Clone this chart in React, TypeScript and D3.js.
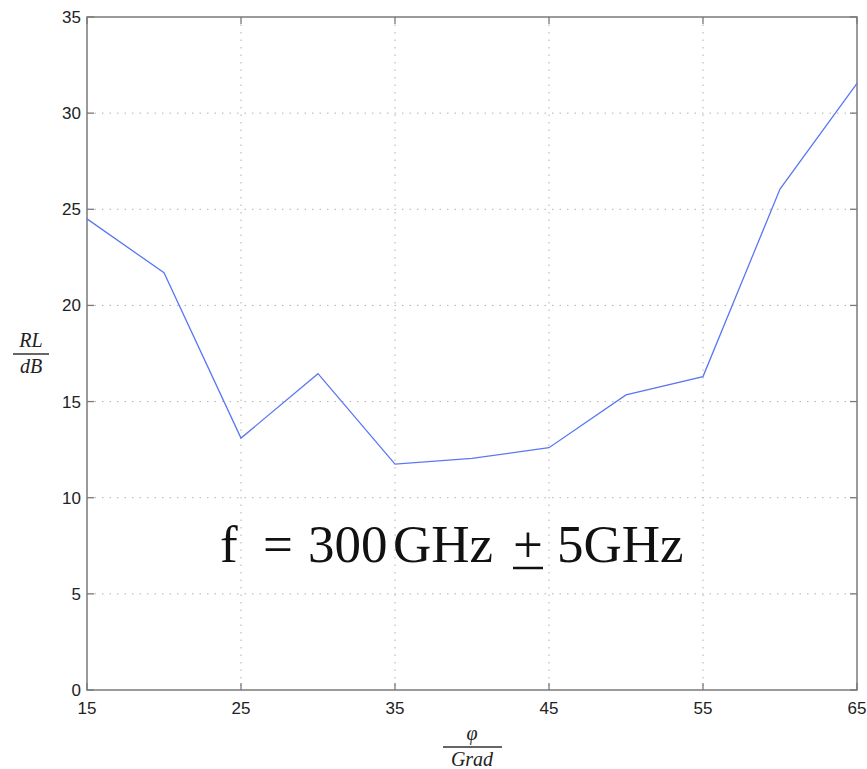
import React from "react";
import * as d3 from "d3";

const angles = [15, 20, 25, 30, 35, 40, 45, 50, 55, 60, 65];
const returnLoss = [24.5, 21.7, 13.1, 16.45, 11.75, 12.05, 12.6, 15.35, 16.3, 26.05, 31.55];
const xTicks = [15, 25, 35, 45, 55, 65];
const yTicks = [0, 5, 10, 15, 20, 25, 30, 35];

const W = 867, H = 769;
const L = 87, R = 857, T = 17, B = 690;

export default function App() {
  const x = d3.scaleLinear().domain([15, 65]).range([L, R]);
  const y = d3.scaleLinear().domain([0, 35]).range([B, T]);
  const line = d3.line<number>().x((_, i) => x(angles[i])).y((d) => y(d));
  const axisColor = "#7a7a7a";
  const tickLen = 7;
  const serif = "'Liberation Serif', 'DejaVu Serif', serif";
  const sans = "'Liberation Sans', Arial, sans-serif";
  const annY = 562;
  const ann = [
    { t: "f", x: 220 },
    { t: "=", x: 263 },
    { t: "300", x: 308 },
    { t: "GHz", x: 393 },
    { t: "+", x: 513 },
    { t: "5GHz", x: 557 },
  ];
  return (
    <svg width={W} height={H} style={{ position: "absolute", left: 0, top: 0, background: "#fff" }}>
      {/* grid */}
      {yTicks.filter((v) => v > 0 && v < 35).map((v) => (
        <line key={"gy" + v} x1={L} x2={R} y1={y(v)} y2={y(v)} stroke="#b0b0b0" strokeWidth={1} strokeDasharray="1.5,6" />
      ))}
      {xTicks.filter((v) => v > 15 && v < 65).map((v) => (
        <line key={"gx" + v} x1={x(v)} x2={x(v)} y1={T} y2={B} stroke="#b0b0b0" strokeWidth={1} strokeDasharray="1.5,6" />
      ))}
      {/* ticks */}
      {yTicks.map((v) => (
        <g key={"ty" + v}>
          <line x1={L} x2={L + tickLen} y1={y(v)} y2={y(v)} stroke={axisColor} strokeWidth={1.3} />
          <line x1={R} x2={R - tickLen} y1={y(v)} y2={y(v)} stroke={axisColor} strokeWidth={1.3} />
          <text x={L - 6} y={y(v)} dy="0.35em" textAnchor="end" fontFamily={sans} fontSize={17} fill="#222">{v}</text>
        </g>
      ))}
      {xTicks.map((v) => (
        <g key={"tx" + v}>
          <line x1={x(v)} x2={x(v)} y1={B} y2={B - tickLen} stroke={axisColor} strokeWidth={1.3} />
          <line x1={x(v)} x2={x(v)} y1={T} y2={T + tickLen} stroke={axisColor} strokeWidth={1.3} />
          <text x={x(v)} y={714} textAnchor="middle" fontFamily={sans} fontSize={17} fill="#222">{v}</text>
        </g>
      ))}
      <rect x={L} y={T} width={R - L} height={B - T} fill="none" stroke={axisColor} strokeWidth={1.5} />
      {/* data line */}
      <path d={line(returnLoss) || ""} fill="none" stroke="#5b78f2" strokeWidth={1.3} />
      {/* annotation */}
      {ann.map((a) => (
        <text key={a.t + a.x} x={a.x} y={annY} fontFamily={serif} fontSize={53} fill="#111">{a.t}</text>
      ))}
      <line x1={513} x2={543} y1={568} y2={568} stroke="#111" strokeWidth={2.5} />
      {/* y label */}
      <text x={31} y={347} textAnchor="middle" fontFamily={serif} fontStyle="italic" fontSize={20} fill="#222">RL</text>
      <line x1={13} x2={49} y1={354} y2={354} stroke="#333" strokeWidth={1.5} />
      <text x={31} y={373} textAnchor="middle" fontFamily={serif} fontStyle="italic" fontSize={20} fill="#222">dB</text>
      {/* x label */}
      <text x={472} y={740} textAnchor="middle" fontFamily={serif} fontStyle="italic" fontSize={20} fill="#222">φ</text>
      <line x1={443} x2={502} y1={747} y2={747} stroke="#333" strokeWidth={1.5} />
      <text x={472} y={766} textAnchor="middle" fontFamily={serif} fontStyle="italic" fontSize={20} fill="#222">Grad</text>
    </svg>
  );
}
